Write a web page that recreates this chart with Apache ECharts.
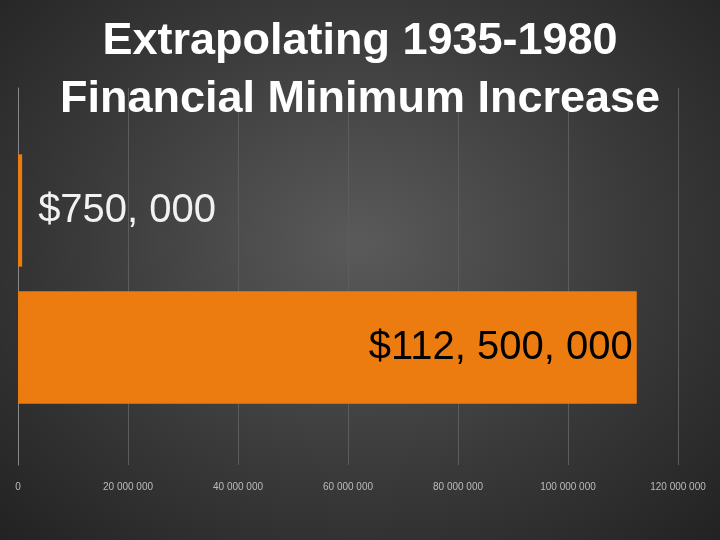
<!DOCTYPE html><html><head><meta charset="utf-8">
<script src="https://cdn.jsdelivr.net/npm/echarts@6/dist/echarts.min.js"></script>
<style>html,body{margin:0;padding:0;}#c{width:720px;height:540px;background:radial-gradient(ellipse at 50% 45%,#5a5a5a 0%,#3a3a3a 55%,#222 100%);}</style>
</head><body><div id="c"></div><script>
const categories=['1980','1935'];
const values=[112500000,750000];
const labelsText=['$112, 500, 000','$750, 000'];
const xTicks=[0,20000000,40000000,60000000,80000000,100000000,120000000];
const chart=echarts.init(document.getElementById('c'));
const fmt=v=>v===0?'0':String(v).replace(/\B(?=(\d{3})+(?!\d))/g,' ');
chart.setOption({
 title:{text:'Extrapolating 1935-1980\nFinancial Minimum Increase',left:'center',top:8,textStyle:{color:'#fff',fontFamily:'Liberation Sans',fontWeight:'bold',fontSize:45,lineHeight:58}},
 grid:[{left:18,right:42,top:142,bottom:124},{left:18,right:42,top:88,bottom:75}],
 xAxis:[{type:'value',gridIndex:0,min:0,max:120000000,interval:20000000,
  axisLabel:{color:'#bbb',fontSize:10,margin:66,formatter:fmt},
  splitLine:{show:false},axisLine:{show:false}},
  {type:'value',gridIndex:1,min:0,max:120000000,interval:20000000,axisLabel:{show:false},
  splitLine:{lineStyle:{color:'#5c5c5c'}},axisLine:{show:false},axisTick:{show:false}}],
 yAxis:[{type:'category',gridIndex:0,data:categories,axisLine:{show:false},axisTick:{show:false},axisLabel:{show:false}},
  {type:'category',gridIndex:1,data:[''],axisLine:{lineStyle:{color:'#888'}},axisTick:{show:false},axisLabel:{show:false}}],
 series:[{type:'bar',xAxisIndex:0,yAxisIndex:0,barCategoryGap:'18%',itemStyle:{color:'#ec7c10'},z:3,
  data:values.map((v,i)=>({value:v,label:{show:true,formatter:labelsText[i],fontFamily:'Liberation Sans',fontSize:40,
   position:i===0?'insideRight':'right',color:i===0?'#000':'#f2f2f2',distance:i===0?4:16}}))}]
});
</script></body></html>
